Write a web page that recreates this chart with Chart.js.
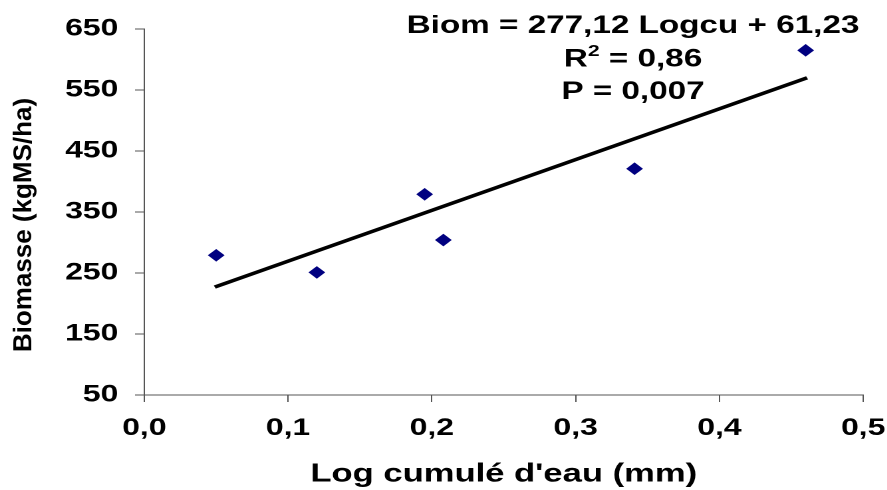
<!DOCTYPE html>
<html>
<head>
<meta charset="utf-8">
<script src="https://cdn.jsdelivr.net/npm/chart.js@4.4.1/dist/chart.umd.min.js"></script>
<style>
  html, body { margin: 0; padding: 0; background: #fff; overflow: hidden; }
  #wrap { position: absolute; left: 0; top: 0; width: 667px; height: 490px; transform: scaleX(1.33); transform-origin: 0 0; }
</style>
</head>
<body>
<div id="wrap"><canvas id="chart"></canvas></div>
<script>
// data
const xValues = [0.05, 0.12, 0.195, 0.208, 0.341, 0.46];
const yValues = [279, 251, 379, 304, 421, 615];
const trendX = [0.049, 0.461];
const trendY = [227, 570];
const xTickValues = [0, 0.1, 0.2, 0.3, 0.4, 0.5];
const yTickValues = [50, 150, 250, 350, 450, 550, 650];
const equationLines = ['Biom = 277,12 Logcu + 61,23', 'R2 = 0,86', 'P = 0,007'];

const STRETCH = 1.33;
const FONT = "'Liberation Sans', Arial, sans-serif";
const AXIS_COLOR = '#555';

const points = xValues.map((x, i) => ({ x: x, y: yValues[i] }));
const trend = trendX.map((x, i) => ({ x: x, y: trendY[i] }));

const extraText = {
    id: 'extraText',
    afterDraw(chart) {
        const ctx = chart.ctx;

        // y title, drawn without the horizontal stretch
        ctx.save();
        ctx.translate(18, 225);
        ctx.scale(1 / STRETCH, 1);
        ctx.rotate(-Math.PI / 2);
        ctx.font = 'bold 26px ' + FONT;
        ctx.fillStyle = '#000';
        ctx.textAlign = 'center';
        ctx.textBaseline = 'middle';
        ctx.fillText('Biomasse (kgMS/ha)', 0, 0);
        ctx.restore();

        // regression text
        ctx.save();
        ctx.fillStyle = '#000';
        ctx.textBaseline = 'alphabetic';
        ctx.textAlign = 'left';
        const cx = 633 / STRETCH;
        const big = 'bold 25px ' + FONT;
        const small = 'bold 16px ' + FONT;
        ctx.font = big;
        let w = ctx.measureText(equationLines[0]).width;
        ctx.fillText(equationLines[0], cx - w / 2, 33);

        const [rPart, rest] = [equationLines[1].slice(0, 1), equationLines[1].slice(2)];
        ctx.font = big;
        const wr = ctx.measureText(rPart).width;
        const wrest = ctx.measureText(rest).width;
        ctx.font = small;
        const w2 = ctx.measureText('2').width;
        let x = cx - (wr + w2 + wrest) / 2;
        ctx.font = big;
        ctx.fillText(rPart, x, 66.5);
        ctx.font = small;
        ctx.fillText('2', x + wr, 56);
        ctx.font = big;
        ctx.fillText(rest, x + wr + w2, 66.5);

        w = ctx.measureText(equationLines[2]).width;
        ctx.fillText(equationLines[2], cx - w / 2, 99);
        ctx.restore();
    }
};

new Chart(document.getElementById('chart'), {
    type: 'scatter',
    data: {
        datasets: [{
            label: 'Biomasse',
            data: points,
            pointStyle: 'rectRot',
            pointRadius: 6.3,
            pointBackgroundColor: '#000080',
            pointBorderColor: '#000080',
            pointBorderWidth: 0,
            showLine: false,
            order: 1
        }, {
            label: 'Tendance',
            data: trend,
            showLine: true,
            borderColor: '#000',
            borderWidth: 3.5,
            pointRadius: 0,
            order: 2
        }]
    },
    options: {
        responsive: true,
        maintainAspectRatio: false,
        devicePixelRatio: 2,
        animation: false,
        layout: {
            padding: { left: 0, right: 18, top: 29, bottom: 0 }
        },
        plugins: {
            legend: { display: false },
            tooltip: { enabled: false }
        },
        scales: {
            x: {
                type: 'linear',
                min: 0,
                max: 0.5,
                afterBuildTicks: (scale) => { scale.ticks = xTickValues.map(v => ({ value: v })); },
                afterFit: (scale) => {
                    scale.height = 95;
                    scale.paddingLeft = 0;
                    scale.paddingRight = 0;
                },
                ticks: {
                    color: '#000',
                    padding: 12,
                    maxRotation: 0,
                    font: { family: FONT, size: 24, weight: 'bold' },
                    callback: (v) => v.toFixed(1).replace('.', ',')
                },
                grid: { display: true, drawOnChartArea: false, drawTicks: true, tickLength: 7, color: AXIS_COLOR },
                border: { display: true, color: AXIS_COLOR, width: 1 },
                title: {
                    display: true,
                    text: "Log cumulé d'eau (mm)",
                    color: '#000',
                    font: { family: FONT, size: 26, weight: 'bold' },
                    padding: { top: 0, bottom: 0 }
                }
            },
            y: {
                type: 'linear',
                min: 50,
                max: 650,
                afterBuildTicks: (scale) => { scale.ticks = yTickValues.map(v => ({ value: v })); },
                afterFit: (scale) => { scale.width = 108.5; },
                ticks: {
                    color: '#000',
                    padding: 12.5,
                    font: { family: FONT, size: 24, weight: 'bold' }
                },
                grid: { display: true, drawOnChartArea: false, drawTicks: true, tickLength: 7, color: AXIS_COLOR },
                border: { display: true, color: AXIS_COLOR, width: 1 }
            }
        }
    },
    plugins: [extraText]
});
</script>
</body>
</html>
